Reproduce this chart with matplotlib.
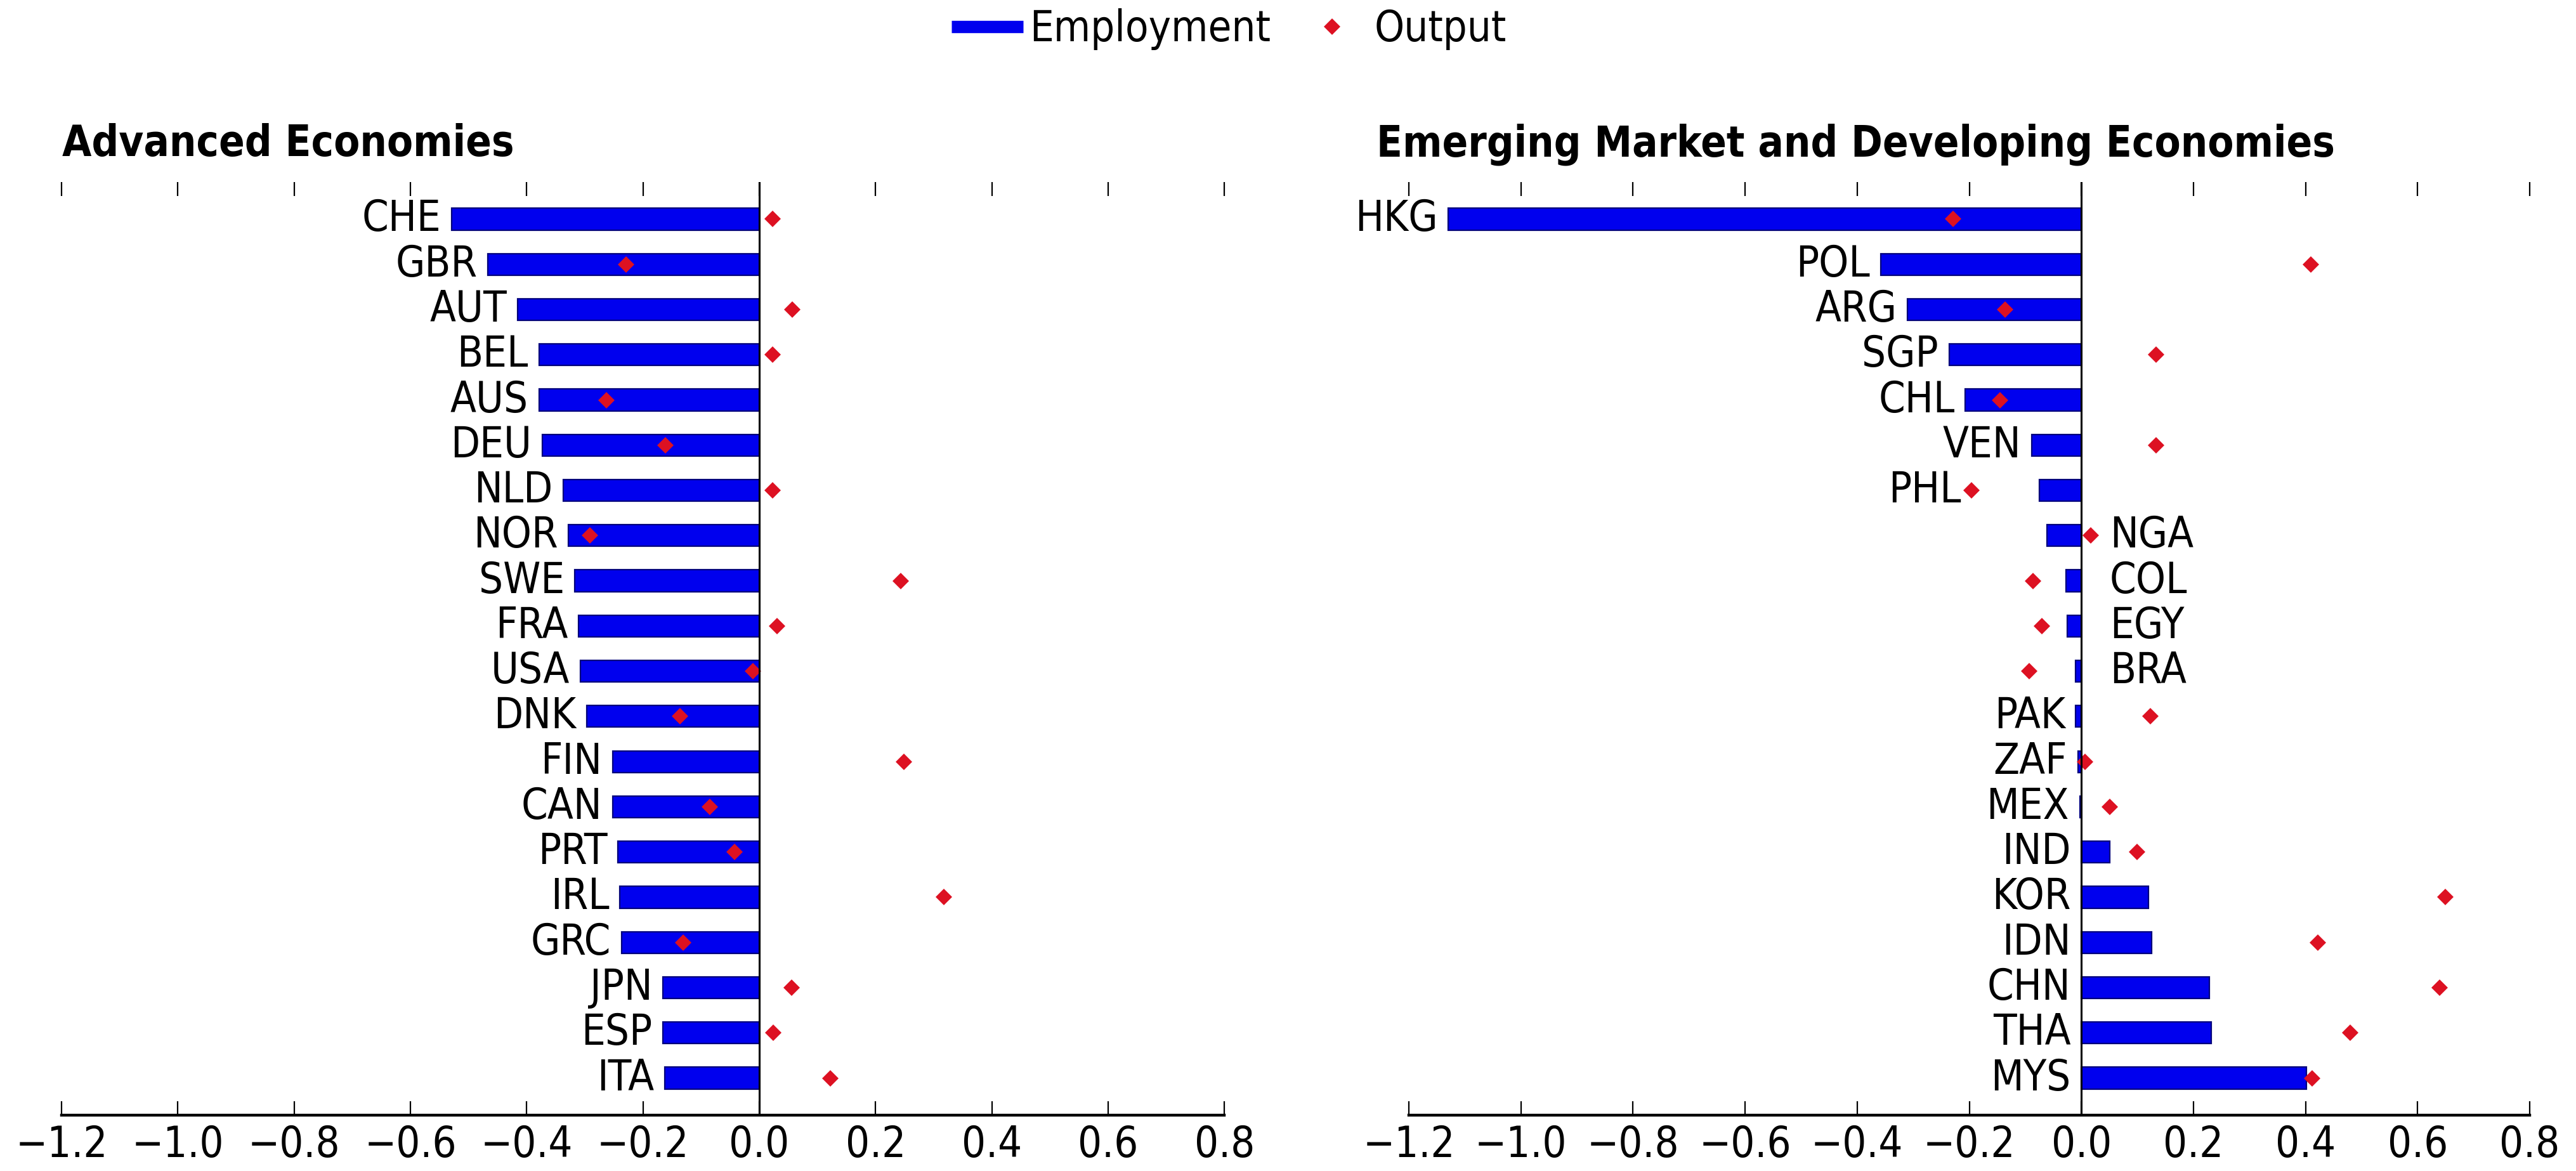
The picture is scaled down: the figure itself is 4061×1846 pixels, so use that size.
import numpy as np
import matplotlib
matplotlib.use('Agg')
from matplotlib import pyplot as plt
from matplotlib.lines import Line2D

plt.rcParams['font.family'] = ['DejaVu Sans']
plt.rcParams['font.stretch'] = 'condensed'

# Advanced economies
adv_names = ['CHE', 'GBR', 'AUT', 'BEL', 'AUS', 'DEU', 'NLD', 'NOR', 'SWE', 'FRA',
             'USA', 'DNK', 'FIN', 'CAN', 'PRT', 'IRL', 'GRC', 'JPN', 'ESP', 'ITA']
adv_employment = [-0.529, -0.467, -0.416, -0.379, -0.379, -0.373, -0.337, -0.328, -0.317, -0.311,
                  -0.308, -0.297, -0.252, -0.252, -0.243, -0.240, -0.237, -0.166, -0.166, -0.163]
adv_output = [0.023, -0.229, 0.057, 0.023, -0.263, -0.161, 0.023, -0.291, 0.243, 0.031,
              -0.011, -0.136, 0.249, -0.085, -0.042, 0.317, -0.131, 0.056, 0.024, 0.122]

# Emerging market and developing economies
em_names = ['HKG', 'POL', 'ARG', 'SGP', 'CHL', 'VEN', 'PHL', 'NGA', 'COL', 'EGY',
            'BRA', 'PAK', 'ZAF', 'MEX', 'IND', 'KOR', 'IDN', 'CHN', 'THA', 'MYS']
em_employment = [-1.13, -0.358, -0.310, -0.236, -0.207, -0.089, -0.075, -0.061, -0.028, -0.025,
                 -0.011, -0.010, -0.006, -0.003, 0.051, 0.120, 0.125, 0.228, 0.232, 0.402]
em_output = [-0.229, 0.409, -0.136, 0.133, -0.145, 0.133, -0.196, 0.017, -0.086, -0.071,
             -0.093, 0.123, 0.006, 0.051, 0.099, 0.649, 0.422, 0.639, 0.480, 0.412]
# these labels sit on the right of the zero line
em_right_labels = ['NGA', 'COL', 'EGY', 'BRA']

x_ticks = [-1.2, -1.0, -0.8, -0.6, -0.4, -0.2, 0.0, 0.2, 0.4, 0.6, 0.8]
x_ticklabels = ['%.1f' % t if t >= 0 else '\u2212%.1f' % abs(t) for t in x_ticks]

bar_color = '#0000EE'
dot_color = '#DD1122'
fs = 24

fig = plt.figure(figsize=(20.31, 9.23), dpi=200)
ax1 = fig.add_axes([0.0239, 0.0477, 0.4513, 0.7968])
ax2 = fig.add_axes([0.5468, 0.0477, 0.4350, 0.7968])


def draw_panel(ax, names, emp, out, right_labels=()):
    y = np.arange(len(names))
    ax.barh(y, emp, height=0.48, color=bar_color, edgecolor='#00007A', linewidth=0.8, zorder=2)
    ax.plot(out, y, linestyle='none', marker='D', markersize=6.5, color=dot_color,
            markeredgewidth=0, zorder=3)
    ax.axvline(0, color='black', lw=1.1, zorder=4)
    for i, name in enumerate(names):
        if name in right_labels:
            ax.annotate(name, (0, i), xytext=(16, 0), textcoords='offset points',
                        ha='left', va='center', fontsize=fs)
        else:
            xpos = min(emp[i], out[i], 0)
            ax.annotate(name, (xpos, i), xytext=(-6, 0), textcoords='offset points',
                        ha='right', va='center', fontsize=fs)
    ax.set_xlim(-1.2, 0.8)
    ax.set_ylim(len(names) - 1 + 0.82, -0.82)
    ax.set_xticks(x_ticks)
    ax.set_xticklabels(x_ticklabels, fontsize=fs)
    ax.set_yticks([])
    for s in ['left', 'right', 'top']:
        ax.spines[s].set_visible(False)
    ax.spines['bottom'].set_linewidth(1.6)
    ax.tick_params(axis='x', direction='in', length=8, width=0.8, pad=5,
                   top=True, bottom=True)


draw_panel(ax1, adv_names, adv_employment, adv_output)
draw_panel(ax2, em_names, em_employment, em_output, em_right_labels)

fig.text(0.0241, 0.8667, 'Advanced Economies', fontsize=fs, fontweight='bold',
         ha='left', va='baseline')
fig.text(0.5342, 0.8667, 'Emerging Market and Developing Economies', fontsize=fs,
         fontweight='bold', ha='left', va='baseline')

handles = [Line2D([], [], color=bar_color, lw=7, solid_capstyle='butt'),
           Line2D([], [], color=dot_color, marker='D', markersize=6.5, linestyle='none',
                  markeredgewidth=0)]
fig.legend(handles, ['Employment', 'Output'], loc='center', bbox_to_anchor=(0.477, 0.975),
           ncol=2, frameon=False, fontsize=fs, handlelength=1.7, columnspacing=0.6,
           handletextpad=0.15)

fig.savefig('out.png', dpi=200)
